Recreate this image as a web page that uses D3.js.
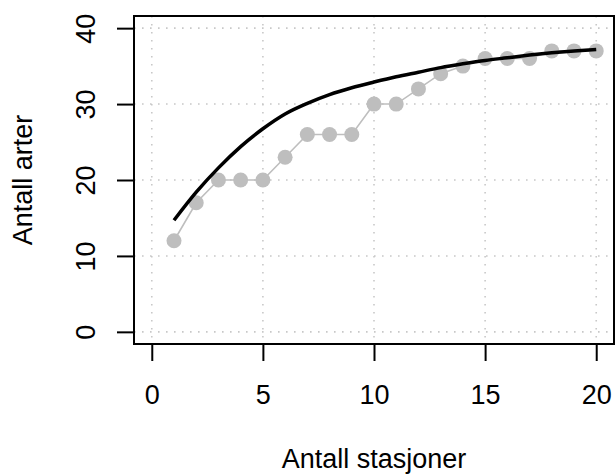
<!DOCTYPE html>
<html><head><meta charset="utf-8">
<script src="https://cdn.jsdelivr.net/npm/d3@7"></script>
<style>body{margin:0;background:#fff}svg{display:block}text{font-family:"Liberation Sans",Arial,sans-serif;fill:#000}</style>
</head><body>
<svg id="c" width="615" height="474"></svg>
<script>
const stations = d3.range(1, 21);
const observed = [12,17,20,20,20,23,26,26,26,30,30,32,34,35,36,36,36,37,37,37];
const fitted = [14.7,18.4,21.6,24.4,26.75,28.7,30.1,31.25,32.15,32.9,33.6,34.2,34.8,35.3,35.75,36.1,36.45,36.75,37.0,37.2];
const xTicks = [0,5,10,15,20];
const yTicks = [0,10,20,30,40];
const xLabel = "Antall stasjoner";
const yLabel = "Antall arter";

const svg = d3.select("#c");
const L=134, R=614, T=16, B=344;
const x = d3.scaleLinear().domain([-0.8,20.8]).range([L,R]);
const y = d3.scaleLinear().domain([-1.6,41.6]).range([B,T]);
const fs = 27;

// grid
const g = svg.append("g").attr("stroke","#c8c8c8").attr("stroke-width",1.6).attr("stroke-dasharray","1.6,6.4");
g.selectAll("line.v").data(xTicks).join("line").attr("x1",d=>x(d)).attr("x2",d=>x(d)).attr("y1",T).attr("y2",B);
g.selectAll("line.h").data(yTicks).join("line").attr("y1",d=>y(d)).attr("y2",d=>y(d)).attr("x1",L).attr("x2",R);

// observed series
svg.append("path").datum(stations.map((s,i)=>[s,observed[i]]))
  .attr("fill","none").attr("stroke","#bebebe").attr("stroke-width",1.6)
  .attr("d", d3.line().x(d=>x(d[0])).y(d=>y(d[1])));
svg.selectAll("circle.o").data(stations.map((s,i)=>[s,observed[i]])).join("circle")
  .attr("cx",d=>x(d[0])).attr("cy",d=>y(d[1])).attr("r",7.5).attr("fill","#bebebe");

// fitted curve
svg.append("path").datum(stations.map((s,i)=>[s,fitted[i]]))
  .attr("fill","none").attr("stroke","#000").attr("stroke-width",3.5)
  .attr("d", d3.line().curve(d3.curveMonotoneX).x(d=>x(d[0])).y(d=>y(d[1])));

// box
svg.append("rect").attr("x",L).attr("y",T).attr("width",R-L).attr("height",B-T)
  .attr("fill","none").attr("stroke","#000").attr("stroke-width",2);

// axes
const xa = svg.append("g").attr("transform",`translate(0,${B})`)
  .call(d3.axisBottom(x).tickValues(xTicks).tickSize(17).tickPadding(24).tickFormat(d3.format("d")));
xa.select(".domain").remove();
xa.selectAll("line").attr("stroke","#000").attr("stroke-width",2);
xa.selectAll("text").attr("font-size",fs).attr("font-family","Liberation Sans, Arial, sans-serif").attr("fill","#000");

const ya = svg.append("g").attr("transform",`translate(${L},0)`)
  .call(d3.axisLeft(y).tickValues(yTicks).tickSize(17).tickFormat(d3.format("d")));
ya.select(".domain").remove();
ya.selectAll("line").attr("stroke","#000").attr("stroke-width",2);
ya.selectAll("text").attr("font-size",fs).attr("font-family","Liberation Sans, Arial, sans-serif").attr("fill","#000")
  .attr("x",null).attr("dy",null).attr("text-anchor","middle")
  .attr("transform",`translate(${95-L},0) rotate(-90)`);

svg.append("text").attr("x",(L+R)/2).attr("y",468).attr("text-anchor","middle").attr("font-size",fs).text(xLabel);
svg.append("text").attr("transform",`translate(31.5,${(T+B)/2}) rotate(-90)`).attr("text-anchor","middle").attr("font-size",fs).text(yLabel);
</script>
</body></html>
